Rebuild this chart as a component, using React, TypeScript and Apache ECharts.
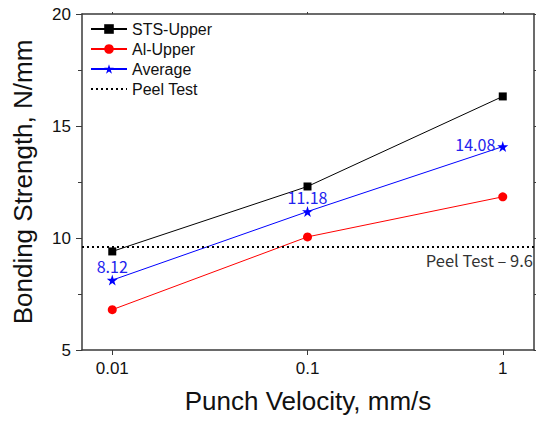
import React, { useEffect, useRef } from "react";
import * as echarts from "echarts";

const velocities = [0.01, 0.1, 1];
const tickLabels = ["0.01", "0.1", "1"];
const stsUpper = [9.4, 12.3, 16.32];
const alUpper = [6.8, 10.05, 11.84];
const average = [8.12, 11.18, 14.08];
const peelTest = 9.6;
const seriesNames = ["STS-Upper", "Al-Upper", "Average", "Peel Test"];

const STAR =
  "path://M50,0 L61.2,34.5 L97.6,34.5 L68.2,55.9 L79.4,90.5 L50,69.1 L20.6,90.5 L31.8,55.9 L2.4,34.5 L38.8,34.5 Z";

const lx = (v: number) => Math.log10(v);

export default function App() {
  const ref = useRef<HTMLDivElement>(null);
  useEffect(() => {
    if (!ref.current) return;
    const chart = echarts.init(ref.current, null, { renderer: "svg" });
    const tickVals = velocities.map(lx);
    const pts = (arr: number[]) => velocities.map((v, i) => [lx(v), arr[i]]);
    const axisColor = "#3a3a3a";
    chart.setOption({
      animation: false,
      backgroundColor: "#fff",
      grid: { left: 82, right: 5, top: 14, bottom: 72, containLabel: false },
      legend: {
        orient: "vertical",
        left: 85,
        top: 14,
        itemWidth: 36,
        itemHeight: 12,
        itemGap: 0,
        textStyle: {
          fontFamily: "Liberation Sans, Arial, sans-serif",
          fontSize: 16,
          color: "#111",
          lineHeight: 20,
        },
        data: [
          { name: seriesNames[0] },
          { name: seriesNames[1] },
          { name: seriesNames[2] },
          { name: seriesNames[3], itemStyle: { opacity: 0 } },
        ],
      },
      xAxis: [
        {
          type: "value",
          min: -2.155,
          max: 0.16,
          name: "Punch Velocity, mm/s",
          nameLocation: "middle",
          nameGap: 38,
          nameTextStyle: {
            fontFamily: "Liberation Sans, Arial, sans-serif",
            fontSize: 26,
            color: "#111",
          },
          axisLine: { show: true, onZero: false, lineStyle: { color: axisColor, width: 1.5 } },
          axisTick: {
            show: true,
            length: 5,
            customValues: tickVals,
            lineStyle: { color: axisColor, width: 1 },
          },
          axisLabel: {
            customValues: tickVals,
            margin: 10,
            fontFamily: "Liberation Sans, Arial, sans-serif",
            fontSize: 17,
            color: "#111",
            formatter: (v: number) => {
              const i = tickVals.findIndex((t) => Math.abs(t - v) < 1e-6);
              return i >= 0 ? tickLabels[i] : "";
            },
          },
          splitLine: { show: false },
        },
        {
          type: "value",
          position: "top",
          min: -2.155,
          max: 0.16,
          axisLine: { show: true, onZero: false, lineStyle: { color: axisColor, width: 1.5 } },
          axisTick: {
            show: true,
            length: 2,
            customValues: tickVals,
            lineStyle: { color: axisColor, width: 1 },
          },
          axisLabel: { show: false },
          splitLine: { show: false },
        },
      ],
      yAxis: [
        {
          type: "value",
          min: 5,
          max: 20,
          interval: 5,
          name: "Bonding Strength, N/mm",
          nameLocation: "middle",
          nameGap: 46,
          nameTextStyle: {
            fontFamily: "Liberation Sans, Arial, sans-serif",
            fontSize: 26,
            color: "#111",
          },
          axisLine: { show: true, onZero: false, lineStyle: { color: axisColor, width: 1.5 } },
          axisTick: { show: true, length: 6, lineStyle: { color: axisColor, width: 1 } },
          minorTick: { show: true, splitNumber: 2, length: 4, lineStyle: { color: axisColor, width: 1 } },
          axisLabel: {
            margin: 11,
            fontFamily: "Liberation Sans, Arial, sans-serif",
            fontSize: 17,
            color: "#111",
          },
          splitLine: { show: false },
        },
        {
          type: "value",
          position: "right",
          min: 5,
          max: 20,
          interval: 5,
          axisLine: { show: true, onZero: false, lineStyle: { color: axisColor, width: 1.5 } },
          axisTick: { show: true, length: 2, lineStyle: { color: axisColor, width: 1 } },
          minorTick: { show: true, splitNumber: 2, length: 2, lineStyle: { color: axisColor, width: 1 } },
          axisLabel: { show: false },
          splitLine: { show: false },
        },
      ],
      series: [
        {
          name: seriesNames[0],
          type: "line",
          data: pts(stsUpper),
          symbol: "rect",
          symbolSize: 8,
          lineStyle: { color: "#000", width: 1 },
          itemStyle: { color: "#000" },
          z: 3,
        },
        {
          name: seriesNames[1],
          type: "line",
          data: pts(alUpper),
          symbol: "circle",
          symbolSize: 9,
          lineStyle: { color: "#ff0000", width: 1 },
          itemStyle: { color: "#ff0000" },
          z: 3,
        },
        {
          name: seriesNames[2],
          type: "line",
          data: velocities.map((v, i) => ({
            value: [lx(v), average[i]],
            label:
              i === velocities.length - 1
                ? { position: "left", distance: 2, offset: [0, -3] }
                : { position: "top", distance: 1 },
          })),
          symbol: STAR,
          symbolSize: 11,
          lineStyle: { color: "#0000ff", width: 1 },
          itemStyle: { color: "#0000ff" },
          label: {
            show: true,
            fontFamily: "Noto Sans CJK KR, sans-serif",
            fontSize: 16,
            color: "#2222ee",
            formatter: (p: any) => p.value[1].toFixed(2),
          },
          z: 4,
        },
        {
          name: seriesNames[3],
          type: "line",
          data: [],
          symbol: "none",
          lineStyle: { color: "#000", width: 2, type: [2, 3] },
          itemStyle: { color: "#000" },
          markLine: {
            silent: true,
            symbol: "none",
            lineStyle: { color: "#000", width: 2, type: [2, 3] },
            label: {
              show: true,
              position: "insideEndBottom",
              distance: [1, 5],
              formatter: "Peel Test – 9.6",
              fontFamily: "Noto Sans CJK KR, sans-serif",
              fontSize: 16.5,
              color: "#333",
            },
            data: [{ yAxis: peelTest }],
          },
        },
      ],
    });
    return () => chart.dispose();
  }, []);
  return <div ref={ref} style={{ width: 539, height: 422, position: "absolute", left: 0, top: 0 }} />;
}
